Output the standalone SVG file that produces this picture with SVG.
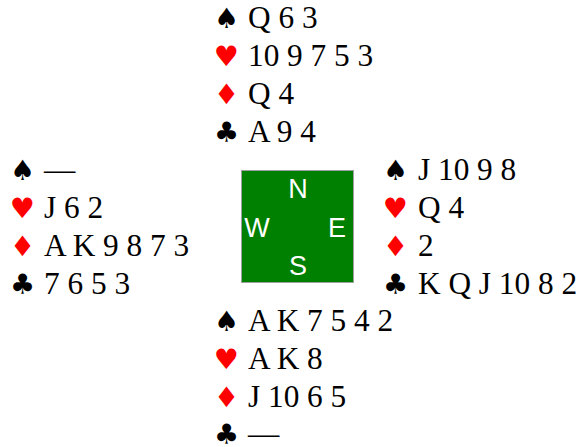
<svg xmlns="http://www.w3.org/2000/svg" width="582" height="447" viewBox="0 0 582 447">
<style>
.t{font-family:"Liberation Serif","Times New Roman",serif;font-size:31.3px;fill:#000}
.s{font-family:"DejaVu Sans",sans-serif;font-size:28px}
.r{fill:#ff0000}
.k{fill:#000}
.c{font-family:"Liberation Sans",Arial,sans-serif;font-size:27px;fill:#fff;text-anchor:middle}
</style>
<rect width="582" height="447" fill="#fff"/>
<g id="north">
<text class="s k" x="214" y="28">♠</text><text class="t" x="248" y="28">Q 6 3</text>
<text class="s r" x="214" y="66">♥</text><text class="t" x="248" y="66">10 9 7 5 3</text>
<text class="s r" x="214" y="104">♦</text><text class="t" x="248" y="104">Q 4</text>
<text class="s k" x="214" y="142">♣</text><text class="t" x="248" y="142">A 9 4</text>
</g>
<g id="west">
<text class="s k" x="10" y="180">♠</text><text class="t" x="44" y="180">—</text>
<text class="s r" x="10" y="218">♥</text><text class="t" x="44" y="218">J 6 2</text>
<text class="s r" x="10" y="256">♦</text><text class="t" x="44" y="256">A K 9 8 7 3</text>
<text class="s k" x="10" y="294">♣</text><text class="t" x="44" y="294">7 6 5 3</text>
</g>
<g id="east">
<text class="s k" x="383" y="180">♠</text><text class="t" x="418" y="180">J 10 9 8</text>
<text class="s r" x="383" y="218">♥</text><text class="t" x="418" y="218">Q 4</text>
<text class="s r" x="383" y="256">♦</text><text class="t" x="418" y="256">2</text>
<text class="s k" x="383" y="294">♣</text><text class="t" x="418" y="294">K Q J 10 8 2</text>
</g>
<g id="south">
<text class="s k" x="214" y="331">♠</text><text class="t" x="248" y="331">A K 7 5 4 2</text>
<text class="s r" x="214" y="369">♥</text><text class="t" x="248" y="369">A K 8</text>
<text class="s r" x="214" y="407">♦</text><text class="t" x="248" y="407">J 10 6 5</text>
<text class="s k" x="214" y="444">♣</text><text class="t" x="248" y="444">—</text>
</g>
<g id="compass">
<rect x="241.5" y="170.5" width="112" height="112" fill="#008000" stroke="#a0a0a0" stroke-width="1"/>
<text class="c" x="298" y="198">N</text>
<text class="c" x="257" y="237">W</text>
<text class="c" x="337" y="237">E</text>
<text class="c" x="298" y="275">S</text>
</g>
</svg>
